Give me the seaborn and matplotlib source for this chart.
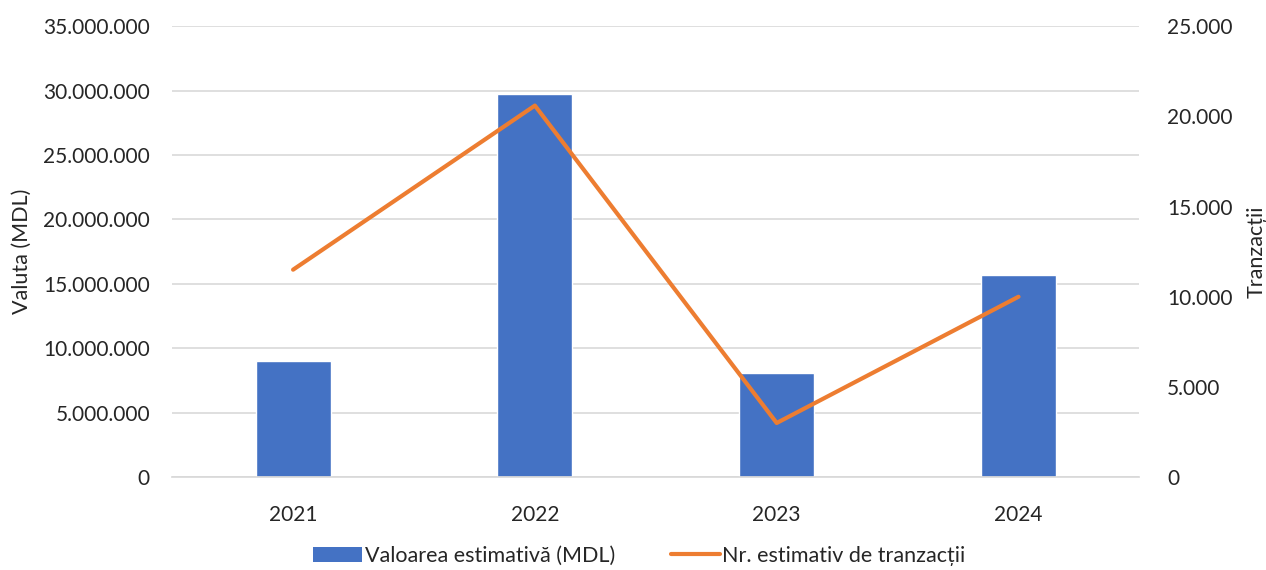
import matplotlib
matplotlib.use("Agg")
import matplotlib.pyplot as plt
import matplotlib.ticker as mticker
from matplotlib.patches import Patch
from matplotlib.lines import Line2D
import seaborn as sns
import numpy as np
import pandas as pd

years = ["2021", "2022", "2023", "2024"]
valoare = [9_000_000, 29_750_000, 8_050_000, 15_650_000]
tranzactii = [11_500, 20_600, 3_000, 10_000]

bar_color = "#4472C4"
line_color = "#ED7D31"

sns.set_theme(style="white")
plt.rcParams["font.family"] = ["Lato", "DejaVu Sans"]


def dot_fmt(x, pos):
    return f"{int(round(x)):,}".replace(",", ".")


df = pd.DataFrame({"an": years, "valoare": valoare, "tranzactii": tranzactii})

fig = plt.figure(figsize=(12.66, 5.7), dpi=100)
ax = fig.add_axes([0.136, 0.163, 0.764, 0.791])

sns.barplot(data=df, x="an", y="valoare", color=bar_color, width=0.31,
            saturation=1, ax=ax, zorder=2)
ax.set_ylim(0, 35_000_000)
ax.set_yticks(np.arange(0, 35_000_001, 5_000_000))
ax.yaxis.set_major_formatter(mticker.FuncFormatter(dot_fmt))
ax.grid(axis="y", color="#d9d9d9", linewidth=1.2, zorder=0)
ax.set_axisbelow(True)
ax.set_xlabel("")
ax.set_ylabel("Valuta (MDL)", fontsize=15.5, color="#262626", labelpad=8)
ax.tick_params(axis="both", length=0, labelsize=15, labelcolor="#262626")
ax.tick_params(axis="x", pad=20)
ax.tick_params(axis="y", pad=16)

ax2 = ax.twinx()
sns.lineplot(x=np.arange(len(years)), y=df["tranzactii"], color=line_color,
             linewidth=3.0, ax=ax2)
ax2.set_ylim(0, 25_000)
ax2.set_yticks(np.arange(0, 25_001, 5_000))
ax2.yaxis.set_major_formatter(mticker.FuncFormatter(dot_fmt))
ax2.set_ylabel("Tranzacții", fontsize=15.5, color="#262626", labelpad=10)
ax2.tick_params(axis="y", length=0, labelsize=15, labelcolor="#262626", pad=20)
ax.set_xlim(-0.5, len(years) - 0.5)

for a in (ax, ax2):
    for s in a.spines.values():
        s.set_visible(False)
ax.spines["bottom"].set_visible(True)
ax.spines["bottom"].set_color("#d9d9d9")

handles = [Patch(facecolor=bar_color, edgecolor="none"),
           Line2D([0], [0], color=line_color, linewidth=3.0)]
labels = ["Valoarea estimativă (MDL)", "Nr. estimativ de tranzacții"]
fig.legend(handles, labels, loc="center", ncol=2, frameon=False,
           fontsize=15.5, bbox_to_anchor=(0.505, 0.025), handlelength=2.3,
           handletextpad=0.1, columnspacing=2.6, labelcolor="#262626",
           borderpad=0, borderaxespad=0)

fig.savefig("out.png", dpi=100)
